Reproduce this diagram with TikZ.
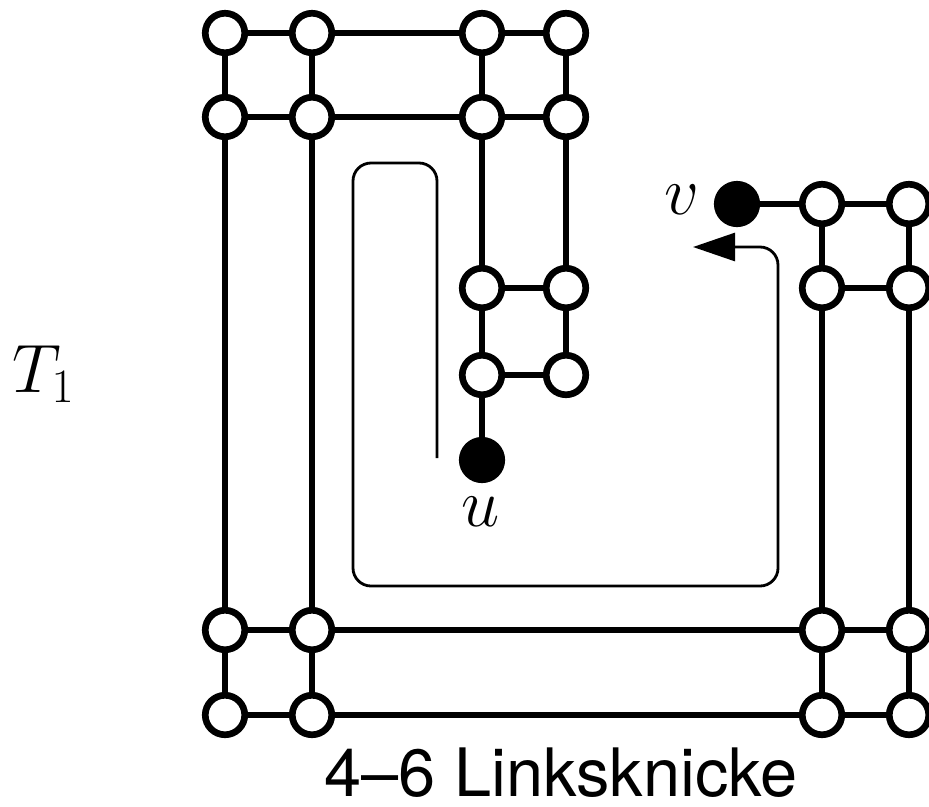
\RequirePackage{fix-cm}
\documentclass[tikz,border=0pt]{standalone}
\usepackage{fontspec}
\setsansfont{TeX Gyre Heros}
\usetikzlibrary{arrows.meta}
\tikzset{
  vtx/.style={circle,draw,line width=3.8pt,minimum size=7.9mm,inner sep=0pt,fill=white},
  term/.style={vtx,fill=black},
  edge/.style={line width=3.2pt},
  route/.style={line width=1.6pt,rounded corners=3.6mm},
  big/.style={font=\fontsize{39}{46}\selectfont},
  caption/.style={font=\sffamily\fontsize{38}{44}\selectfont,anchor=base west,inner sep=0pt}
}

\begin{document}
\begin{tikzpicture}[x=0.02cm,y=-0.02cm]
 \useasboundingbox (0,0) rectangle (929,806);
 % upper block
 \foreach \n/\x in {1/225,2/312,3/482,4/566}{
   \node[vtx] (t\n) at (\x,33) {};
   \node[vtx] (s\n) at (\x,117) {};
 }
 \node[vtx] (m1) at (482,288) {}; \node[vtx] (m2) at (566,288) {};
 \node[vtx] (n1) at (482,375) {}; \node[vtx] (n2) at (566,375) {};
 \node[term] (u) at (482,460) {};
 % right block
 \node[term] (v) at (737,204) {};
 \node[vtx] (q1) at (822,204) {}; \node[vtx] (q2) at (909,204) {};
 \node[vtx] (r1) at (822,288) {}; \node[vtx] (r2) at (909,288) {};
 % lower block
 \foreach \n/\x in {1/225,2/312,3/822,4/909}{
   \node[vtx] (p\n) at (\x,630) {};
   \node[vtx] (o\n) at (\x,715) {};
 }
 \draw[edge] (t1)--(t2)--(t3)--(t4); \draw[edge] (s1)--(s2)--(s3)--(s4);
 \draw[edge] (t1)--(s1)--(p1)--(o1); \draw[edge] (t2)--(s2)--(p2)--(o2);
 \draw[edge] (t3)--(s3)--(m1)--(n1)--(u); \draw[edge] (t4)--(s4)--(m2)--(n2);
 \draw[edge] (m1)--(m2); \draw[edge] (n1)--(n2);
 \draw[edge] (v)--(q1)--(q2); \draw[edge] (r1)--(r2);
 \draw[edge] (q1)--(r1)--(p3)--(o3); \draw[edge] (q2)--(r2)--(p4)--(o4);
 \draw[edge] (p1)--(p2)--(p3)--(p4); \draw[edge] (o1)--(o2)--(o3)--(o4);
 % walk from u to v
 \coordinate (start) at (437,458);
 \coordinate (tip) at (693,247);
 \draw[route,-{Triangle[length=8.4mm,width=5.6mm]}] (start) -- (437,163) -- (353,163)
   -- (353,586) -- (778,586) -- (778,247) -- (tip);
 % labels
 \node[big] (lu) at (481,512) {$u$};
 \node[big] (lv) at (682,200) {$v$};
 \node[big,anchor=base west,inner sep=0pt] (tname) at (12,392) {$T_1$};
 \node[caption] (kinks) at (324,796) {4--6 Linksknicke};
\end{tikzpicture}
\end{document}
